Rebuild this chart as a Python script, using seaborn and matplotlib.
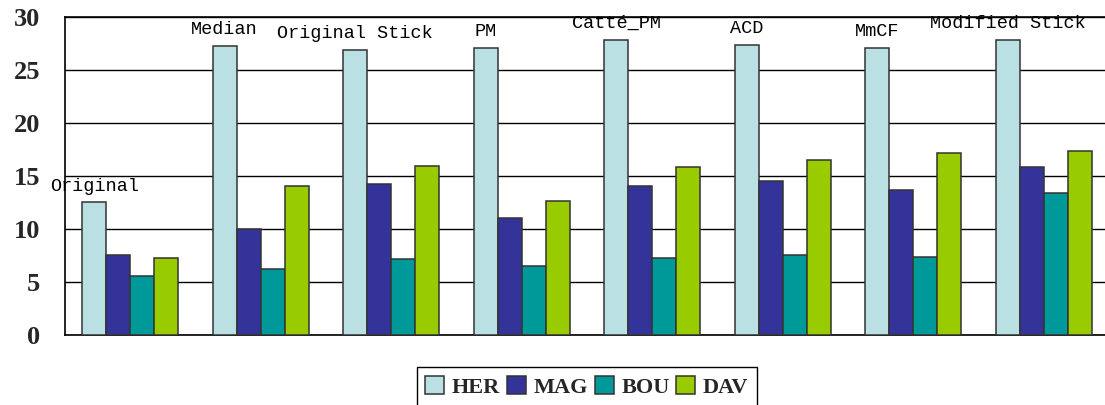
import matplotlib
matplotlib.use("Agg")
import matplotlib.pyplot as plt
import seaborn as sns
import pandas as pd

# Methods (categories) and per-site values
methods = ["Original", "Median", "Original Stick", "PM", "Catté_PM", "ACD", "MmCF", "Modified Stick"]
sites = ["HER", "MAG", "BOU", "DAV"]
her = [12.5, 27.3, 26.9, 27.1, 27.9, 27.4, 27.1, 27.9]
mag = [7.5, 10.0, 14.2, 11.0, 14.0, 14.5, 13.7, 15.8]
bou = [5.55, 6.2, 7.1, 6.5, 7.2, 7.5, 7.3, 13.4]
dav = [7.2, 14.0, 15.9, 12.6, 15.8, 16.5, 17.2, 17.4]
yticks = [0, 5, 10, 15, 20, 25, 30]

colors = ["#BBE0E3", "#333399", "#009999", "#99CC00"]

df = pd.DataFrame({
    "method": methods * 4,
    "site": [s for s in sites for _ in methods],
    "value": her + mag + bou + dav,
})

sns.set_theme(style="white")
plt.rcParams["font.family"] = ["Liberation Serif", "DejaVu Serif"]

W, H = 1105, 405
fig = plt.figure(figsize=(W / 100, H / 100), dpi=100)
left, right, top, bottom = 65, 1109, 17.3, 334.5
ax = fig.add_axes([left / W, (H - bottom) / H, (right - left) / W, (bottom - top) / H])

bar_w = 0.736
sns.barplot(data=df, x="method", y="value", hue="site", order=methods, hue_order=sites,
            palette=colors, width=bar_w, gap=0, edgecolor="#333333", linewidth=1.1,
            saturation=1, ax=ax, zorder=3)

ax.set_ylim(0, 30)
ax.set_xlim(-0.5, len(methods) - 0.5)
ax.set_yticks(yticks)
ax.set_yticklabels([str(t) for t in yticks], fontsize=19, fontweight="bold")
ax.tick_params(axis="y", length=0, pad=18)
ax.set_xticks([])
ax.set_xlabel("")
ax.set_ylabel("")
ax.yaxis.grid(True, color="black", linewidth=1.0, zorder=0)
ax.set_axisbelow(True)
for side in ["left", "bottom", "top"]:
    ax.spines[side].set_color("black")
    ax.spines[side].set_linewidth(1.2)
ax.spines["right"].set_visible(False)

# Method names written just above the HER bar of each group
her_offset = -bar_w / 2 + bar_w / 8
for i, (name, v) in enumerate(zip(methods, her)):
    ax.annotate(name, xy=(i + her_offset, v), xytext=(0, 8.5), textcoords="offset points",
                ha="center", va="baseline", fontsize=13.3,
                family=["Liberation Mono", "DejaVu Sans Mono"], color="black", zorder=5,
                annotation_clip=False)

handles, labels = ax.get_legend_handles_labels()
leg = ax.legend(handles, labels, loc="upper center", bbox_to_anchor=(0.5, -0.103), ncol=4,
                frameon=True, fancybox=False, edgecolor="black", framealpha=1,
                prop={"family": "Liberation Serif", "weight": "bold", "size": 16},
                handlelength=0.85, handleheight=0.85, handletextpad=0.35,
                columnspacing=0.3, borderpad=0.4, borderaxespad=0)
leg.get_frame().set_linewidth(1.0)

fig.savefig("out.png", dpi=100)
